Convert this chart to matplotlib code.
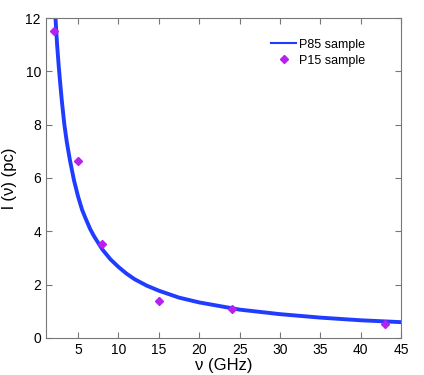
import matplotlib
matplotlib.use("Agg")
import matplotlib.pyplot as plt

plt.rcParams['font.family'] = ['Liberation Sans', 'DejaVu Sans']

# P85 sample curve
nu_curve = [2.2, 2.4, 2.6, 2.8, 3.0, 3.3, 3.6, 4, 4.5, 5, 5.5, 6, 6.5, 7, 8, 9, 10,
            11, 12, 13.5, 15, 17.5, 20, 25, 30, 35, 40, 45]
l_curve = [12.0, 11.0, 10.2, 9.5, 8.85, 8.0, 7.35, 6.65, 5.9, 5.3, 4.8, 4.43, 4.08,
           3.8, 3.32, 2.95, 2.66, 2.41, 2.2, 1.96, 1.77, 1.51, 1.33, 1.06, 0.89,
           0.76, 0.66, 0.59]

# P15 sample points
nu_pts = [2, 5, 8, 15, 24, 43]
l_pts = [11.5, 6.62, 3.53, 1.40, 1.09, 0.51]

xticks = [5, 10, 15, 20, 25, 30, 35, 40, 45]
yticks = [0, 2, 4, 6, 8, 10, 12]

fig = plt.figure(figsize=(4.24, 3.75), dpi=100)
ax = fig.add_axes([0.108, 0.099, 0.838, 0.853])

ax.plot(nu_curve, l_curve, color='#1f3cff', linewidth=2.8, label='P85 sample')
ax.plot(nu_pts, l_pts, linestyle='none', marker='D', markersize=4,
        color='#b81ff0', label='P15 sample')

ax.set_xlim(1, 45)
ax.set_ylim(0, 12)
ax.set_xticks(xticks)
ax.set_yticks(yticks)
ax.tick_params(direction='in', top=True, right=True, labelsize=10, length=4,
               color='#777777')
for s in ax.spines.values():
    s.set_color('#777777')

ax.set_xlabel('ν (GHz)', fontsize=12, labelpad=1)
ax.set_ylabel('l (ν) (pc)', fontsize=12, labelpad=6)

leg = ax.legend(loc='upper right', frameon=False, fontsize=9,
                bbox_to_anchor=(0.93, 0.97), handlelength=2.0,
                handletextpad=0.2, labelspacing=0.3)
leg.get_lines()[0].set_linewidth(1.5)

fig.savefig('out.png', dpi=100)
